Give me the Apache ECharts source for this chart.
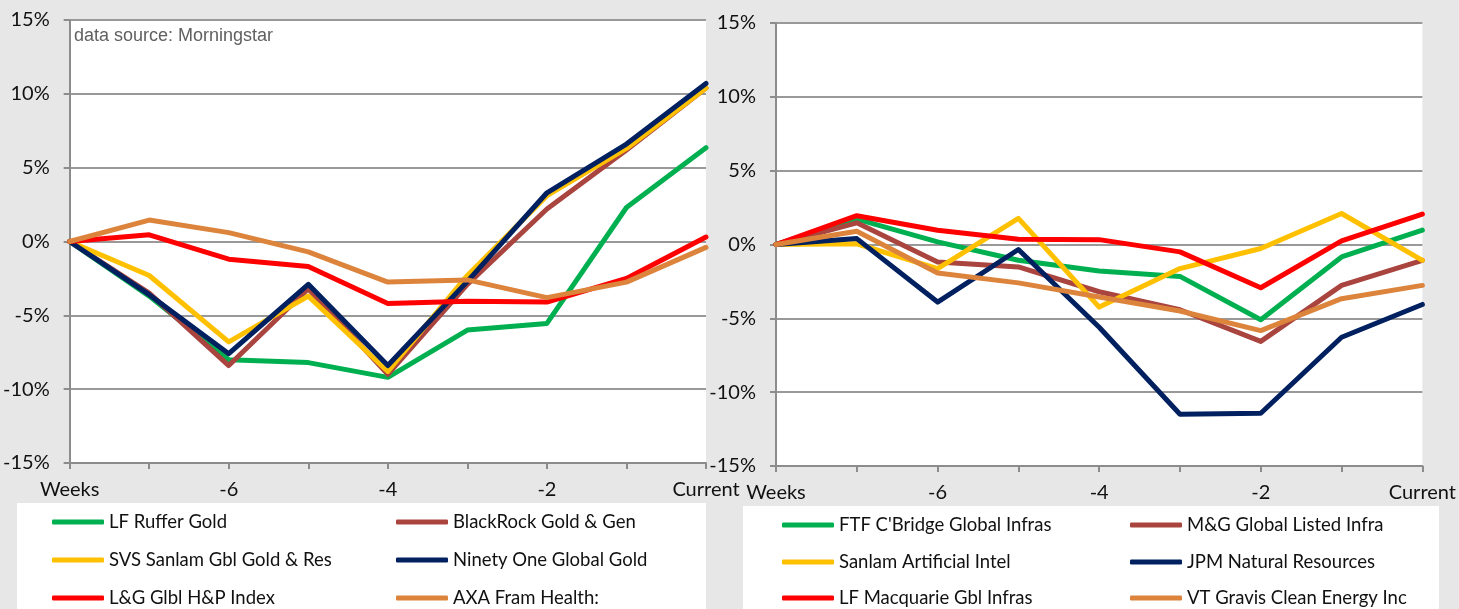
<!DOCTYPE html>
<html>
<head>
<meta charset="utf-8">
<script src="https://cdn.jsdelivr.net/npm/echarts@6/dist/echarts.min.js"></script>
<style>
  html, body { margin: 0; padding: 0; background: #e7e7e7; }
  #chart { width: 1459px; height: 609px; }
</style>
</head>
<body>
<div id="chart"></div>
<script>
// x categories (weeks back)
const weeks = ["Weeks", "-7", "-6", "-5", "-4", "-3", "-2", "-1", "Current"];

// left panel (%)
const ruffer = [0, -3.7, -8.0, -8.2, -9.2, -6.0, -5.55, 2.3, 6.35];
const blackrock = [0, -3.5, -8.4, -3.2, -9.0, -2.9, 2.2, 6.2, 10.4];
const svsSanlam = [0, -2.3, -6.8, -3.7, -8.8, -2.3, 3.1, 6.3, 10.4];
const ninetyOne = [0, -3.6, -7.6, -2.9, -8.4, -2.7, 3.3, 6.6, 10.7];
const lgHP = [0, 0.45, -1.2, -1.7, -4.2, -4.05, -4.1, -2.5, 0.3];
const axaHealth = [0, 1.45, 0.6, -0.7, -2.75, -2.6, -3.8, -2.75, -0.4];

// right panel (%)
const ftfInfras = [0, 1.72, 0.18, -1.07, -1.8, -2.16, -5.1, -0.84, 0.97];
const mgInfra = [0, 1.47, -1.18, -1.52, -3.2, -4.42, -6.56, -2.77, -1.07];
const sanlamAI = [0, 0.05, -1.63, 1.77, -4.24, -1.63, -0.27, 2.1, -1.07];
const jpmNatRes = [0, 0.4, -3.9, -0.34, -5.6, -11.5, -11.43, -6.28, -4.06];
const macquarie = [0, 1.95, 0.97, 0.36, 0.33, -0.5, -2.93, 0.25, 2.06];
const gravis = [0, 0.9, -1.93, -2.6, -3.56, -4.5, -5.83, -3.67, -2.77];

const C = {
  green: "#00b050", brown: "#a9443e", yellow: "#ffc000",
  navy: "#002060", red: "#ff0000", orange: "#dd843c"
};
const FONT = "Lato";

const myChart = echarts.init(document.getElementById("chart"));

const mkX = (idx) => ({
  type: "category", gridIndex: idx, data: weeks, boundaryGap: false,
  axisLine: { onZero: false, lineStyle: { color: "#8c8c8c", width: 2 } },
  axisTick: { interval: 0, length: 6, lineStyle: { color: "#8c8c8c", width: 2 } },
  axisLabel: { interval: 1, margin: 17, color: "#111", fontFamily: FONT, fontSize: 20 },
  splitLine: { show: false }
});
const mkY = (idx) => ({
  type: "value", gridIndex: idx, min: -15, max: 15, interval: 5,
  axisLine: { show: true, lineStyle: { color: "#8c8c8c", width: 2 } },
  axisTick: { show: true, length: 6, lineStyle: { color: "#8c8c8c", width: 2 } },
  axisLabel: { formatter: "{value}%", margin: 20, color: "#111", fontFamily: FONT, fontSize: 20 },
  splitLine: { lineStyle: { color: "#999", width: 2 } }
});
const mkLine = (name, data, color, idx) => ({
  name, type: "line", data, xAxisIndex: idx, yAxisIndex: idx,
  symbol: "none", color,
  lineStyle: { width: 5, color, cap: "round", join: "round" }
});
// one legend per entry, placed on a 2-column grid under each panel
const mkLegend = (name, left, top) => ({
  left, top, padding: 0,
  icon: "roundRect", itemWidth: 52, itemHeight: 5,
  selectedMode: false, data: [name],
  textStyle: { fontFamily: FONT, fontSize: 18.5, lineHeight: 20, color: "#111" }
});

const option = {
  backgroundColor: "#e7e7e7",
  animation: false,
  grid: [
    { left: 68, top: 20, width: 638, height: 443, show: true, backgroundColor: "#fff", borderWidth: 0 },
    { left: 776, top: 23, width: 649, height: 443, show: true, backgroundColor: "#fff", borderWidth: 0 }
  ],
  xAxis: [mkX(0), mkX(1)],
  yAxis: [mkY(0), mkY(1)],
  graphic: [
    { type: "rect", left: 17, top: 503, shape: { width: 689, height: 106 }, style: { fill: "#fff" }, z: -1 },
    { type: "rect", left: 743, top: 506, shape: { width: 696, height: 103 }, style: { fill: "#fff" }, z: -1 },
    { type: "text", left: 74, top: 27, style: { text: "data source: Morningstar", fill: "#606060", font: "18px 'Liberation Sans'" } }
  ],
  legend: [
    mkLegend("LF Ruffer Gold", 52, 512),
    mkLegend("SVS Sanlam Gbl Gold & Res", 52, 550),
    mkLegend("L&G Glbl H&P Index", 52, 588),
    mkLegend("BlackRock Gold & Gen", 396, 512),
    mkLegend("Ninety One Global Gold", 396, 550),
    mkLegend("AXA Fram Health:", 396, 588),
    mkLegend("FTF C'Bridge Global Infras", 782, 515),
    mkLegend("Sanlam Artificial Intel", 782, 552),
    mkLegend("LF Macquarie Gbl Infras", 782, 588),
    mkLegend("M&G Global Listed Infra", 1130, 515),
    mkLegend("JPM Natural Resources", 1130, 552),
    mkLegend("VT Gravis Clean Energy Inc", 1130, 588)
  ],
  series: [
    mkLine("LF Ruffer Gold", ruffer, C.green, 0),
    mkLine("BlackRock Gold & Gen", blackrock, C.brown, 0),
    mkLine("SVS Sanlam Gbl Gold & Res", svsSanlam, C.yellow, 0),
    mkLine("Ninety One Global Gold", ninetyOne, C.navy, 0),
    mkLine("L&G Glbl H&P Index", lgHP, C.red, 0),
    mkLine("AXA Fram Health:", axaHealth, C.orange, 0),
    mkLine("FTF C'Bridge Global Infras", ftfInfras, C.green, 1),
    mkLine("M&G Global Listed Infra", mgInfra, C.brown, 1),
    mkLine("Sanlam Artificial Intel", sanlamAI, C.yellow, 1),
    mkLine("JPM Natural Resources", jpmNatRes, C.navy, 1),
    mkLine("LF Macquarie Gbl Infras", macquarie, C.red, 1),
    mkLine("VT Gravis Clean Energy Inc", gravis, C.orange, 1)
  ]
};
myChart.setOption(option);
</script>
</body>
</html>
